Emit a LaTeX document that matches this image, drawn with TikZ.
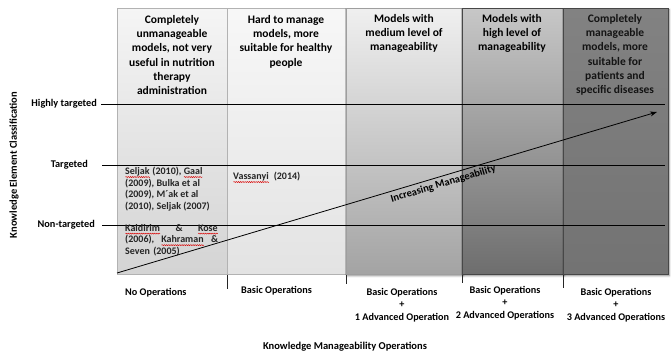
\documentclass[tikz,border=0pt]{standalone}
\usepackage{fontspec}
\setmainfont{Carlito}
\usetikzlibrary{arrows.meta,decorations.pathmorphing,shadows.blur}
\newsavebox\sqbox
\newdimen\sqwd
\newcommand\sqw[1]{\sbox\sqbox{#1}\sqwd=\wd\sqbox\rlap{\usebox\sqbox}\tikz[baseline=0pt]\draw[red!85!black,line width=0.45pt,decorate,decoration={snake,amplitude=0.55pt,segment length=2.2pt}] (0pt,-2.4pt) -- (\sqwd,-2.4pt);}
\begin{document}
\begin{tikzpicture}[x=1pt,y=-1pt,
  lbl/.style={font=\bfseries\fontsize{10.3}{12}\selectfont, inner sep=0pt},
  head/.style={font=\bfseries\fontsize{11.5}{14.3}\selectfont, align=center, inner sep=0pt, anchor=north},
  col/.style={anchor=north west, minimum height=266pt, inner sep=0pt, line width=0.6pt},
  ref/.style={font=\bfseries\fontsize{10}{11.5}\selectfont, inner sep=0pt, anchor=north west, align=left, text=black!85},
  op/.style={font=\bfseries\fontsize{10.2}{12.5}\selectfont, inner sep=0pt, anchor=north, align=center},
  axis/.style={font=\bfseries\fontsize{10.5}{12}\selectfont, inner sep=0pt},
  rowline/.style={line width=0.8pt},
  tick/.style={line width=0.8pt, black!85},
  shd/.style={blur shadow={shadow xshift=1pt, shadow yshift=-1.5pt, shadow blur radius=2pt, shadow opacity=45}}
]
\useasboundingbox (0,0) rectangle (671,353);
% columns
\node[col, minimum width=110pt, draw=black!30, top color=black!4, bottom color=black!17] (c1) at (117,8) {};
\node[col, minimum width=119pt, draw=black!30, top color=black!3, bottom color=black!11] (c2) at (227,8) {};
\node[col, shd, minimum width=116pt, draw=black!38, top color=black!6, bottom color=black!36] (c3) at (346,8) {};
\node[col, shd, minimum width=101pt, draw=black!72, top color=black!22, bottom color=black!57] (c4) at (462,8) {};
\node[col, shd, minimum width=105pt, draw=black!72, top color=black!49, bottom color=black!55] (c5) at (563,8) {};
% headers
\node[head] (h1) at (172,15) {Completely\\unmanageable\\models, not very\\useful in nutrition\\therapy\\administration};
\node[head] (h2) at (286,15) {Hard to manage\\models, more\\suitable for healthy\\people};
\node[head] (h3) at (404,14) {Models with\\medium level of\\manageability};
\node[head] (h4) at (512,14) {Models with\\high level of\\manageability};
\node[head, text=black!92] (h5) at (615,14) {Completely\\manageable\\models, more\\suitable for\\patients and\\specific diseases};
% row labels and lines
\node[lbl, anchor=east] (rh) at (97,104) {Highly targeted};
\node[lbl, anchor=east] (rt) at (88,165) {Targeted};
\node[lbl, anchor=east] (rn) at (95,225) {Non-targeted};
\coordinate (ee) at (665,0);
\draw[rowline] ([xshift=4pt]rh.east) -- (rh.east -| ee);
\draw[rowline] ([xshift=14pt]rt.east) -- (rt.east -| ee);
\draw[rowline] ([xshift=7pt]rn.east) -- (rn.east -| ee);
% ticks
\draw[tick] (c2.south west) -- ++(0,14);
\draw[tick] (c3.south west) -- ++(0,9);
\draw[tick] (c4.south west) -- ++(0,8);
\draw[tick] (c5.south west) -- ++(0,13);
% references
\node[ref] (r1) at (125,167) {\sqw{Seljak} (2010), \sqw{Gaal}\\(2009), Bulka et al\\(2009), M´ak et al\\(2010), Seljak (2007)};
\node[ref, text width=93pt] (r2) at (125,224) {\sqw{Kaldirim}\hfill\&\hfill\sqw{Kose}\\(2006),\hfill\sqw{Kahraman}\hfill\&\\Seven (2005)};
\node[ref] (r3) at (233,172) {\sqw{Vassanyi}\ \ (2014)};
% arrow
\coordinate (as) at (117,273);
\coordinate (ae) at (657,112);
\draw[line width=0.8pt, -{Stealth[length=7pt,width=5pt]}] (as) -- node[sloped, below=3pt, pos=0.6, axis] (im) {Increasing Manageability} (ae);
% operations
\node[op, anchor=north west] (o1) at (125,288) {No Operations};
\node[op, anchor=north west] (o2) at (241,286) {Basic Operations};
\node[op] (o3) at (402,288) {Basic Operations\\+\\1 Advanced Operation};
\node[op] (o4) at (505,286) {Basic Operations\\+\\2 Advanced Operations};
\node[op] (o5) at (616,288) {Basic Operations\\+\\3 Advanced Operations};
% axis labels
\node[axis, rotate=90] (ya) at (14,165) {Knowledge Element Classification};
\node[axis] (xa) at (345,347) {Knowledge Manageability Operations};
\end{tikzpicture}
\end{document}
